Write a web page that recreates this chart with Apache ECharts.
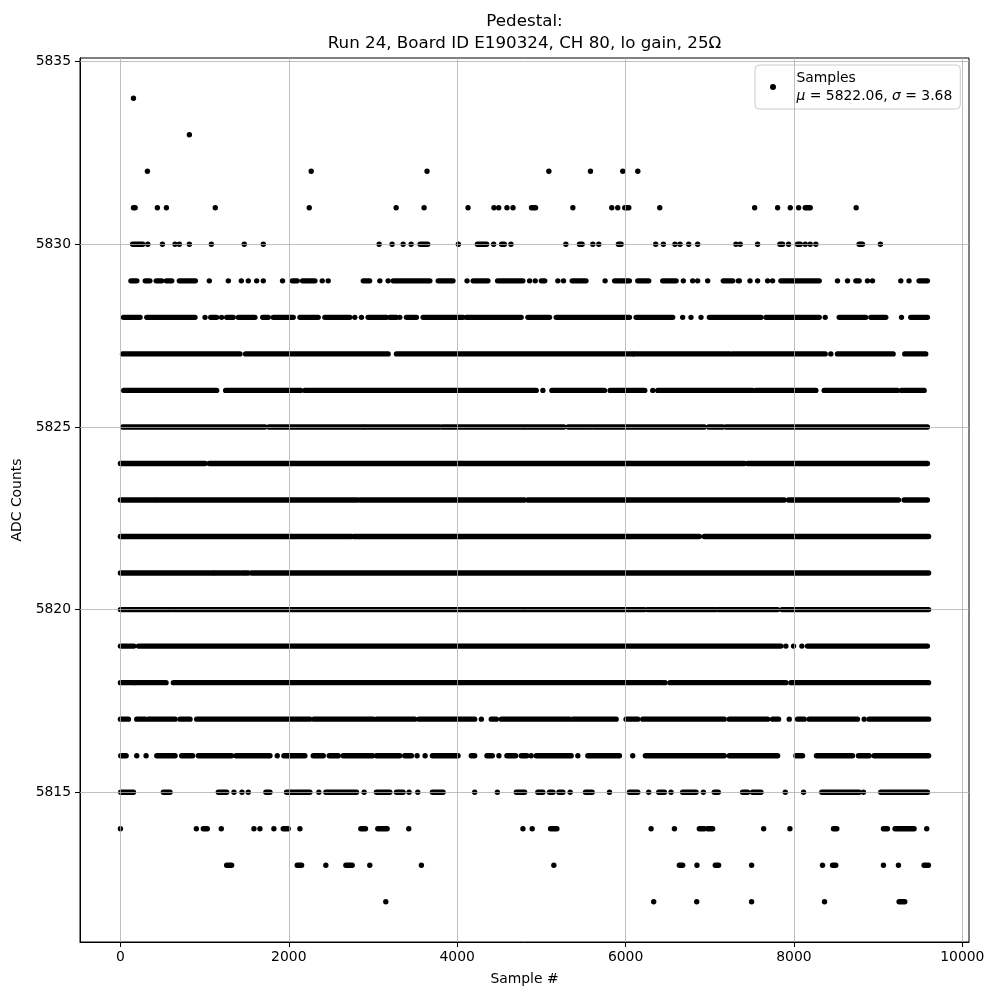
<!DOCTYPE html>
<html><head><meta charset="utf-8">
<script src="https://cdn.jsdelivr.net/npm/echarts@6/dist/echarts.min.js"></script>
<style>html,body{margin:0;padding:0;background:#fff}#c{width:1000px;height:1000px}</style>
</head><body><div id="c"></div>
<script>
// Each level: list of [firstSample, lastSample] runs of consecutive visible samples
const s5834 = [[155,155]];
const s5833 = [[819,819]];
const s5832 = [[321,321],[2266,2266],[3642,3642],[5089,5089],[5583,5583],[5967,5967],[6145,6145]];
const s5831 = [[155,175],[439,439],[546,546],[1127,1127],[2243,2243],[3275,3275],[3607,3607],[4129,4129],[4437,4437],[4493,4493],[4591,4591],[4663,4663],[4883,4931],[5374,5374],[5836,5836],[5907,5907],[5990,6038],[6406,6406],[7533,7533],[7806,7806],[7956,7956],[8055,8055],[8134,8193],[8739,8739]];
const s5830 = [[145,265],[325,325],[499,499],[649,649],[700,700],[819,819],[1080,1080],[1471,1471],[1697,1697],[3073,3073],[3227,3227],[3358,3358],[3453,3453],[3560,3650],[4014,4014],[4240,4350],[4433,4433],[4528,4560],[4639,4639],[5291,5291],[5453,5484],[5611,5611],[5682,5682],[5915,5947],[6358,6358],[6449,6449],[6587,6587],[6647,6647],[6750,6750],[6856,6856],[7311,7311],[7362,7362],[7568,7568],[7833,7865],[7936,7936],[8043,8075],[8134,8134],[8193,8193],[8260,8260],[8774,8814],[9027,9027]];
const s5829 = [[125,195],[295,350],[425,490],[545,610],[700,890],[1056,1056],[1282,1282],[1436,1436],[1519,1519],[1618,1618],[1697,1697],[1926,1926],[2041,2100],[2163,2310],[2397,2397],[2468,2468],[2885,2960],[3081,3081],[3180,3180],[3240,3675],[3775,3950],[4117,4117],[4190,4365],[4480,4780],[4860,4860],[4927,4927],[5000,5040],[5196,5196],[5263,5263],[5366,5530],[5757,5757],[5870,6045],[6145,6275],[6441,6600],[6686,6686],[6797,6797],[6856,6856],[6975,6975],[7161,7272],[7339,7351],[7478,7478],[7568,7568],[7687,7687],[7746,7746],[7845,8300],[8517,8517],[8636,8636],[8735,8774],[8873,8873],[8933,8933],[9269,9269],[9367,9367],[9486,9585]];
const s5828 = [[36,234],[313,886],[1005,1005],[1072,1143],[1202,1202],[1262,1340],[1400,1598],[1690,1756],[1815,2053],[2132,2349],[2428,2725],[2784,2784],[2863,2863],[2942,3160],[3200,3279],[3318,3318],[3397,3516],[3595,4069],[4109,4760],[4840,5097],[5176,6046],[6125,6560],[6678,6678],[6777,6777],[6896,6896],[6995,7608],[7667,8300],[8371,8371],[8537,8853],[8913,9091],[9277,9277],[9387,9585]];
const s5827 = [[25,1420],[1487,3180],[3279,6085],[6105,7240],[7272,8371],[8438,8438],[8517,9178],[9316,9565]];
const s5826 = [[40,1143],[1250,2132],[2140,2140],[2191,4939],[5018,5018],[5125,5749],[5816,6228],[6323,6323],[6382,7509],[7549,8260],[8359,9229],[9277,9546]];
const s5825 = [[28,1716],[1764,2883],[2903,3793],[3824,5267],[5318,5591],[5619,6935],[6987,7153],[7192,9585]];
const s5824 = [[0,1005],[1056,7410],[7450,9585]];
const s5823 = [[0,412],[432,2812],[2844,4800],[4840,7885],[7936,9241],[9308,9585]];
const s5822 = [[0,2745],[2772,6876],[6935,9599]];
const s5821 = [[0,1104],[1123,1420],[1448,1519],[1558,9599]];
const s5820 = [[0,590],[610,6224],[6259,7074],[7101,7806],[7857,9599]];
const s5819 = [[0,160],[214,7845],[7904,7904],[7995,7995],[8094,8094],[8161,9585]];
const s5818 = [[0,155],[174,542],[629,6441],[6469,6469],[6528,7905],[7964,9599]];
const s5817 = [[0,95],[194,293],[332,649],[708,827],[906,2250],[2298,3002],[3041,3496],[3547,4208],[4287,4287],[4405,4465],[4524,5334],[5374,5888],[6006,6145],[6204,7172],[7232,7687],[7746,7817],[7944,7944],[8043,8122],[8181,8754],[8834,8834],[8893,9599]];
const s5816 = [[4,68],[194,194],[305,305],[432,649],[728,858],[926,1321],[1373,1776],[1863,1863],[1942,2191],[2290,2409],[2480,2587],[2646,2994],[3041,3318],[3377,3457],[3524,3524],[3619,3619],[3706,4010],[4168,4208],[4354,4417],[4496,4496],[4591,4694],[4761,4828],[4879,4879],[4939,5354],[5433,5433],[5552,5927],[6085,6085],[6235,7172],[7232,7806],[8023,8102],[8268,8695],[8766,8893],[8952,9599]];
const s5815 = [[4,155],[510,589],[1163,1262],[1349,1349],[1444,1444],[1519,1519],[1728,1776],[1973,2250],[2357,2357],[2440,2804],[2895,2895],[3041,3200],[3279,3358],[3429,3429],[3532,3532],[3706,3832],[4208,4208],[4477,4477],[4702,4801],[4958,5018],[5097,5137],[5208,5255],[5342,5342],[5524,5603],[5809,5809],[6046,6145],[6275,6275],[6394,6461],[6540,6540],[6678,6837],[6924,6924],[7054,7101],[7390,7450],[7509,7608],[7897,7897],[8114,8114],[8331,8774],[8825,8825],[9031,9585]];
const s5814 = [[0,0],[902,902],[985,1032],[1198,1198],[1586,1586],[1657,1657],[1823,1823],[1934,1993],[2132,2132],[2856,2911],[3057,3168],[3425,3425],[4781,4781],[4891,4891],[5109,5184],[6303,6303],[6580,6580],[6876,6935],[6975,7034],[7640,7640],[7952,7952],[8470,8509],[9063,9110],[9201,9427],[9577,9577]];
const s5813 = [[1262,1321],[2100,2152],[2440,2440],[2678,2753],[2962,2962],[3575,3575],[5148,5148],[6639,6678],[6848,6848],[7066,7105],[7497,7497],[8339,8339],[8458,8497],[9063,9063],[9241,9241],[9546,9597]];
const s5812 = [[3152,3152],[6334,6334],[6845,6845],[7497,7497],[8363,8363],[9249,9316]];

const adcLevels = [5812,5813,5814,5815,5816,5817,5818,5819,5820,5821,5822,5823,5824,5825,5826,5827,5828,5829,5830,5831,5832,5833,5834];
const levelRuns = [s5812,s5813,s5814,s5815,s5816,s5817,s5818,s5819,s5820,s5821,s5822,s5823,s5824,s5825,s5826,s5827,s5828,s5829,s5830,s5831,s5832,s5833,s5834];

const xTicks = [0,2000,4000,6000,8000,10000];
const yTicks = [5815,5820,5825,5830,5835];
const titleLine1 = 'Pedestal:';
const titleLine2 = 'Run 24, Board ID E190324, CH 80, lo gain, 25Ω';
const legendName = 'Samples';
const muVal = '5822.06', sigmaVal = '3.68';

const runData = [];
levelRuns.forEach((runs, i) => runs.forEach(r => runData.push([r[0], r[1], adcLevels[i]])));

const FONT = 'DejaVu Sans';
const chart = echarts.init(document.getElementById('c'), null, {renderer: 'canvas'});
const R = 2.7;
chart.setOption({
  animation: false,
  backgroundColor: '#fff',
  grid: {left: 80, top: 58, width: 889, height: 884, show: true, borderColor: '#000', borderWidth: 1, backgroundColor: 'transparent', containLabel: false},
  graphic: [
    {type: 'text', x: 524.5, y: 22, style: {text: titleLine1, fontFamily: FONT, fontSize: 16.7, fill: '#000', align: 'center', verticalAlign: 'middle'}},
    {type: 'text', x: 524.5, y: 44, style: {text: titleLine2, fontFamily: FONT, fontSize: 16.7, fill: '#000', align: 'center', verticalAlign: 'middle'}}
  ],
  xAxis: {
    type: 'value', min: -480, max: 10079,
    name: 'Sample #', nameLocation: 'middle', nameGap: 30,
    nameTextStyle: {fontFamily: FONT, fontSize: 13.9, color: '#000'},
    axisLine: {show: true, onZero: false, lineStyle: {color: '#000', width: 1}},
    axisTick: {show: true, inside: false, length: 5, customValues: xTicks, lineStyle: {color: '#000', width: 1}},
    axisLabel: {customValues: xTicks, formatter: v => String(v), fontFamily: FONT, fontSize: 13.9, color: '#000', margin: 8},
    splitLine: {show: false}
  },
  yAxis: {
    type: 'value', min: 5810.9, max: 5835.1,
    name: 'ADC Counts', nameLocation: 'middle', nameGap: 52, nameRotate: 90,
    nameTextStyle: {fontFamily: FONT, fontSize: 13.9, color: '#000'},
    axisLine: {show: true, onZero: false, lineStyle: {color: '#000', width: 1}},
    axisTick: {show: true, inside: false, length: 5, customValues: yTicks, lineStyle: {color: '#000', width: 1}},
    axisLabel: {customValues: yTicks, formatter: v => String(v), fontFamily: FONT, fontSize: 13.9, color: '#000', margin: 9},
    splitLine: {show: false}
  },
  legend: {
    show: true, left: 755, top: 65, orient: 'vertical',
    data: [{name: legendName, icon: 'circle'}],
    itemWidth: 37, itemHeight: 6,
    padding: [6, 8, 6, 15],
    backgroundColor: 'rgba(255,255,255,0.8)', borderColor: '#cccccc', borderWidth: 1, borderRadius: 4,
    formatter: () => '{n|' + legendName + '}\n{i|μ}{n| = ' + muVal + ', }{i|σ}{n| = ' + sigmaVal + '}',
    textStyle: {
      fontFamily: FONT, fontSize: 13.9, color: '#000',
      rich: {
        n: {fontFamily: FONT, fontSize: 13.9, color: '#000', lineHeight: 18},
        i: {fontFamily: FONT, fontSize: 13.9, color: '#000', fontStyle: 'italic', lineHeight: 18}
      }
    }
  },
  series: [
    {
      name: '_grid', type: 'scatter', data: [], z: 1, silent: true,
      markLine: {
        silent: true, symbol: ['none', 'none'], label: {show: false}, animation: false,
        lineStyle: {color: '#b0b0b0', width: 0.8, type: 'solid'},
        emphasis: {disabled: true},
        data: xTicks.map(v => ({xAxis: v})).concat(yTicks.map(v => ({yAxis: v})))
      }
    },
    {
      name: legendName, type: 'custom', z: 3, silent: true,
      itemStyle: {color: '#000'},
      encode: {x: [0, 1], y: 2},
      data: runData,
      renderItem: function (params, api) {
        const y = api.value(2);
        const a = api.coord([api.value(0), y]);
        const b = api.coord([api.value(1), y]);
        return {type: 'rect', shape: {x: a[0] - R, y: a[1] - R, width: b[0] - a[0] + 2 * R, height: 2 * R, r: R}, style: {fill: '#000'}};
      }
    }
  ]
});
</script></body></html>
